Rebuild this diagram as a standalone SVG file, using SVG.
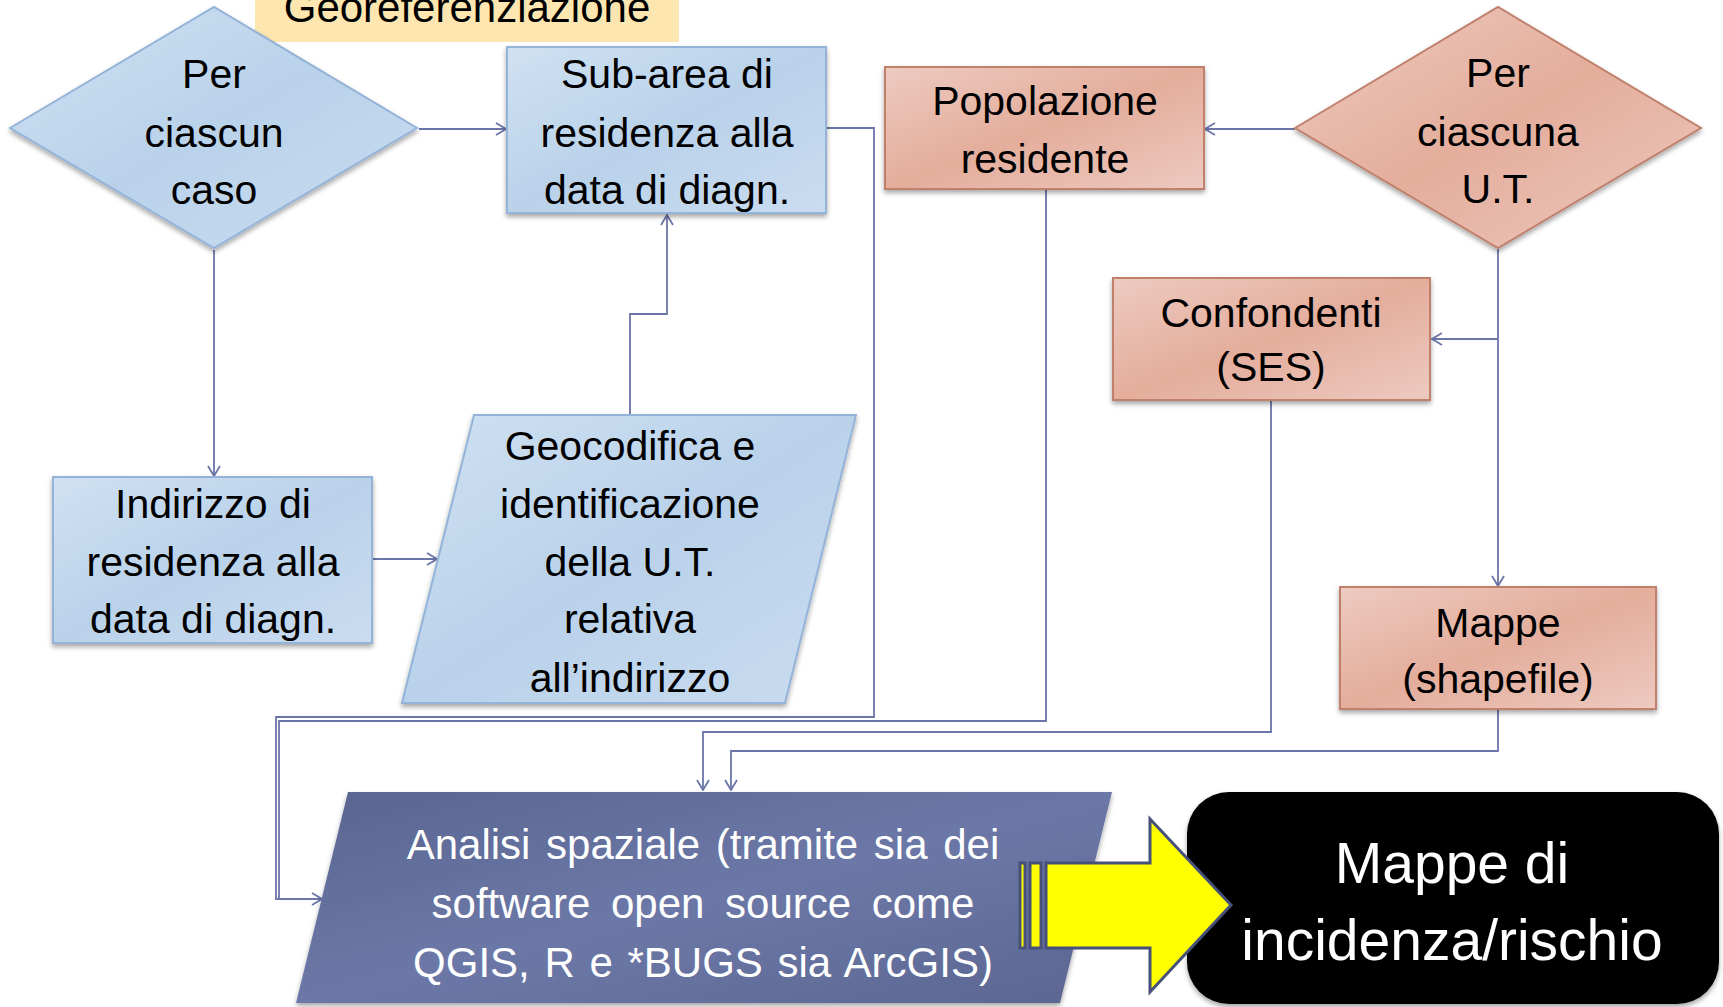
<svg xmlns="http://www.w3.org/2000/svg" width="1723" height="1007" viewBox="0 0 1723 1007">
<style>
.t{font-family:"Liberation Sans",Arial,sans-serif;font-size:41px;fill:#000;text-anchor:middle}
.w{fill:#fff}
.big{font-size:57px}
.blue{fill:url(#gBlue);stroke:#93b3d8;stroke-width:2}
.sal{fill:url(#gSal);stroke:#c0806c;stroke-width:2}
.con{fill:none;stroke:#6b75a8;stroke-width:1.8}
</style>
<defs>
<linearGradient id="gBlue" x1="0" y1="0" x2="1" y2="1">
<stop offset="0" stop-color="#d0e1f2"/><stop offset="0.5" stop-color="#b9d2ea"/><stop offset="1" stop-color="#cadcf0"/>
</linearGradient>
<linearGradient id="gSal" x1="0" y1="0" x2="1" y2="1">
<stop offset="0" stop-color="#edcbc0"/><stop offset="0.5" stop-color="#e4ad9c"/><stop offset="1" stop-color="#edcac0"/>
</linearGradient>
<linearGradient id="gDark" x1="0" y1="0" x2="1" y2="1">
<stop offset="0" stop-color="#596590"/><stop offset="0.5" stop-color="#6c78a7"/><stop offset="1" stop-color="#5b6691"/>
</linearGradient>
<filter id="sh" x="-10%" y="-10%" width="120%" height="130%">
<feDropShadow dx="0" dy="3" stdDeviation="2.5" flood-color="#000" flood-opacity="0.35"/>
</filter>
<marker id="arr" viewBox="0 0 12 14" refX="11" refY="7" markerWidth="12" markerHeight="14" orient="auto" markerUnits="userSpaceOnUse">
<path d="M1,1 L11,7 L1,13" fill="none" stroke="#6b75a8" stroke-width="1.8"/>
</marker>
</defs>
<rect width="1723" height="1007" fill="#fff"/>

<g id="connectors">
<path class="con" d="M419,129 H506" marker-end="url(#arr)"/>
<path class="con" d="M214,250 V476" marker-end="url(#arr)"/>
<path class="con" d="M372,559 H437" marker-end="url(#arr)"/>
<path class="con" d="M630,415 V314 H667 V215" marker-end="url(#arr)"/>
<path class="con" d="M826,128 H874 V717 H276 V899 H322" marker-end="url(#arr)"/>
<path class="con" d="M1046,189 V721 H279 V899"/>
<path class="con" d="M1271,400 V732 H703 V790" marker-end="url(#arr)"/>
<path class="con" d="M1498,709 V751 H731 V790" marker-end="url(#arr)"/>
<path class="con" d="M1295,129 H1205" marker-end="url(#arr)"/>
<path class="con" d="M1498,249 V586" marker-end="url(#arr)"/>
<path class="con" d="M1498,339 H1432" marker-end="url(#arr)"/>
</g>

<g id="label-georef">
<rect x="255" y="0" width="424" height="42" fill="#fde6af"/>
<text class="t" x="467" y="22" style="font-size:42px">Georeferenziazione</text>
</g>

<g id="diamond-caso">
<polygon class="blue" points="10,128 214,7 417,128 214,248" filter="url(#sh)"/>
<text class="t" x="214" y="88">Per</text>
<text class="t" x="214" y="147">ciascun</text>
<text class="t" x="214" y="204">caso</text>
</g>

<g id="box-subarea">
<rect class="blue" x="507" y="47" width="319" height="166" filter="url(#sh)"/>
<text class="t" x="667" y="88">Sub-area di</text>
<text class="t" x="667" y="147">residenza alla</text>
<text class="t" x="667" y="204">data di diagn.</text>
</g>

<g id="box-indirizzo">
<rect class="blue" x="53" y="477" width="319" height="166" filter="url(#sh)"/>
<text class="t" x="213" y="518">Indirizzo di</text>
<text class="t" x="213" y="576">residenza alla</text>
<text class="t" x="213" y="633">data di diagn.</text>
</g>

<g id="para-geocodifica">
<polygon class="blue" points="474,415 856,415 785,703 402,703" filter="url(#sh)"/>
<text class="t" x="630" y="460">Geocodifica e</text>
<text class="t" x="630" y="518">identificazione</text>
<text class="t" x="630" y="576">della U.T.</text>
<text class="t" x="630" y="633">relativa</text>
<text class="t" x="630" y="692">all’indirizzo</text>
</g>

<g id="box-popolazione">
<rect class="sal" x="885" y="67" width="319" height="122" filter="url(#sh)"/>
<text class="t" x="1045" y="115">Popolazione</text>
<text class="t" x="1045" y="173">residente</text>
</g>

<g id="diamond-ut">
<polygon class="sal" points="1295,128 1498,7 1701,128 1498,248" filter="url(#sh)"/>
<text class="t" x="1498" y="87">Per</text>
<text class="t" x="1498" y="146">ciascuna</text>
<text class="t" x="1498" y="203">U.T.</text>
</g>

<g id="box-confondenti">
<rect class="sal" x="1113" y="278" width="317" height="122" filter="url(#sh)"/>
<text class="t" x="1271" y="327">Confondenti</text>
<text class="t" x="1271" y="381">(SES)</text>
</g>

<g id="box-mappe">
<rect class="sal" x="1340" y="587" width="316" height="122" filter="url(#sh)"/>
<text class="t" x="1498" y="637">Mappe</text>
<text class="t" x="1498" y="693">(shapefile)</text>
</g>

<g id="para-analisi">
<polygon points="348,792 1112,792 1060,1003 296,1003" fill="url(#gDark)" filter="url(#sh)"/>
<text class="t w" x="703" y="859" style="font-size:42px" word-spacing="4">Analisi spaziale (tramite sia dei</text>
<text class="t w" x="703" y="918" style="font-size:42px" word-spacing="9">software open source come</text>
<text class="t w" x="703" y="977" style="font-size:42px" word-spacing="3">QGIS, R e *BUGS sia ArcGIS)</text>
</g>

<g id="box-result">
<rect x="1187" y="792" width="532" height="212" rx="42" ry="42" fill="#000" filter="url(#sh)"/>
<text class="t w big" x="1452" y="883">Mappe di</text>
<text class="t w big" x="1452" y="960">incidenza/rischio</text>
</g>

<g id="arrow-yellow" fill="#ffff00" stroke="#465078" stroke-width="3" stroke-linejoin="miter">
<rect x="1020" y="863" width="5" height="85"/>
<rect x="1030" y="863" width="11" height="85"/>
<polygon points="1046,863 1150,863 1150,819 1231,905 1150,992 1150,948 1046,948"/>
</g>
</svg>
